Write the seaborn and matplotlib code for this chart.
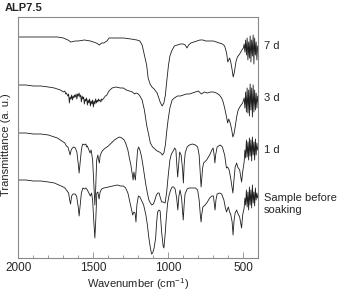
"""
FTIR spectra of ALP7.5 after soaking, stacked (7 d, 3 d, 1 d, before soaking)
"""
import numpy as np
import matplotlib
matplotlib.use('Agg')
import matplotlib.pyplot as plt
from matplotlib.ticker import MultipleLocator
import seaborn as sns

# Spectra (transmittance in arbitrary, offset units)
wn_7d = [2000, 1900, 1800, 1740, 1700, 1670, 1650, 1620, 1600, 1560,
         1520, 1480, 1460, 1445, 1430, 1410, 1395, 1350, 1300, 1250,
         1210, 1190, 1175, 1160, 1145, 1135, 1122, 1110, 1095, 1075,
         1055, 1042, 1030, 1020, 1010, 1000, 990, 975, 960, 940,
         920, 900, 888, 876, 865, 850, 830, 810, 790, 770,
         750, 720, 700, 680, 660, 640, 625, 612, 604, 598,
         592, 584, 575, 568, 560, 550, 540, 525, 510, 500,
         495, 490, 485, 480, 475, 470, 465, 460, 455, 450,
         445, 440, 435, 430, 425, 420, 415, 410, 405, 400]
t_7d = [221, 221, 221, 221, 220, 218, 216, 217, 217, 218,
        217, 215, 213, 215, 215, 217, 220, 220, 220, 219,
        218, 217, 213, 203, 193, 180, 174, 171, 169, 165,
        156, 152, 155, 163, 178, 192, 202, 208, 212, 213,
        214, 214, 213, 210, 213, 215, 216, 217, 218, 218,
        217, 217, 217, 216, 215, 214, 212, 205, 196, 198,
        200, 196, 188, 181, 186, 196, 201, 204, 208, 210,
        214, 206, 218, 203, 220, 198, 216, 200, 222, 196,
        218, 202, 223, 194, 220, 203, 216, 198, 212, 208]

wn_3d = [2000, 1950, 1900, 1850, 1800, 1760, 1740, 1720, 1700, 1690,
         1685, 1680, 1670, 1665, 1660, 1655, 1650, 1645, 1640, 1635,
         1630, 1625, 1620, 1615, 1610, 1605, 1600, 1595, 1590, 1585,
         1580, 1575, 1570, 1565, 1560, 1555, 1550, 1545, 1540, 1535,
         1530, 1525, 1520, 1515, 1510, 1505, 1500, 1495, 1490, 1485,
         1480, 1475, 1470, 1465, 1460, 1455, 1450, 1445, 1440, 1430,
         1420, 1410, 1400, 1390, 1375, 1350, 1320, 1300, 1280, 1260,
         1240, 1225, 1215, 1200, 1190, 1175, 1160, 1145, 1135, 1120,
         1105, 1090, 1075, 1060, 1050, 1040, 1030, 1020, 1010, 1002,
         990, 975, 960, 940, 920, 900, 880, 860, 840, 820,
         800, 780, 760, 740, 720, 700, 680, 660, 645, 635,
         625, 615, 605, 598, 590, 580, 570, 563, 555, 545,
         535, 520, 505, 495, 490, 485, 480, 475, 470, 465,
         460, 455, 450, 445, 440, 435, 430, 425, 420, 415,
         410, 405, 400]
t_3d = [173, 173, 172, 172, 171, 170, 169, 168, 166, 167,
        164, 165, 162, 164, 155, 161, 159, 163, 158, 162,
        160, 163, 161, 164, 159, 164, 162, 165, 161, 163,
        156, 162, 159, 161, 154, 159, 157, 160, 153, 158,
        155, 159, 152, 157, 154, 158, 151, 157, 154, 159,
        155, 158, 156, 159, 157, 158, 156, 159, 158, 160,
        162, 163, 166, 168, 170, 171, 170, 170, 168, 167,
        166, 164, 165, 164, 162, 158, 148, 133, 126, 115,
        111, 109, 107, 106, 105, 103, 105, 113, 128, 138,
        150, 158, 160, 162, 162, 163, 164, 164, 165, 166,
        167, 164, 166, 165, 166, 166, 165, 163, 160, 156,
        150, 143, 135, 139, 136, 130, 121, 124, 131, 141,
        148, 152, 155, 160, 150, 166, 146, 170, 145, 168,
        142, 174, 148, 170, 141, 173, 146, 168, 148, 165,
        150, 162, 156]

wn_1d = [2000, 1950, 1900, 1850, 1800, 1760, 1740, 1720, 1700, 1690,
         1680, 1670, 1660, 1655, 1648, 1640, 1630, 1620, 1610, 1600,
         1595, 1590, 1580, 1575, 1570, 1560, 1550, 1545, 1540, 1530,
         1522, 1515, 1505, 1495, 1490, 1485, 1478, 1470, 1465, 1460,
         1455, 1445, 1435, 1420, 1400, 1380, 1360, 1340, 1325, 1310,
         1295, 1285, 1270, 1260, 1250, 1240, 1235, 1230, 1225, 1220,
         1213, 1205, 1198, 1190, 1180, 1170, 1160, 1150, 1140, 1130,
         1120, 1110, 1100, 1090, 1080, 1070, 1062, 1055, 1045, 1035,
         1022, 1012, 1002, 990, 980, 968, 958, 950, 945, 938,
         932, 925, 915, 905, 900, 895, 888, 875, 860, 840,
         820, 805, 795, 787, 782, 778, 772, 765, 745, 725,
         710, 702, 695, 690, 685, 675, 655, 640, 625, 613,
         605, 595, 585, 578, 570, 563, 555, 545, 538, 525,
         512, 505, 495, 490, 485, 480, 475, 470, 465, 460,
         455, 450, 445, 440, 435, 430, 425, 420, 415, 410,
         405, 400]
t_1d = [125, 125, 124, 124, 123, 121, 120, 118, 116, 115,
        112, 111, 106, 103, 108, 110, 111, 110, 106, 93,
        85, 93, 108, 112, 114, 113, 114, 111, 112, 108,
        105, 108, 98, 68, 53, 68, 98, 103, 98, 95,
        102, 106, 108, 110, 112, 115, 118, 120, 121, 120,
        118, 115, 108, 100, 93, 83, 78, 86, 82, 78,
        93, 108, 111, 108, 102, 93, 83, 73, 65, 58,
        55, 53, 54, 58, 63, 65, 65, 61, 56, 56,
        55, 65, 81, 98, 104, 107, 110, 108, 96, 81,
        93, 106, 103, 88, 75, 93, 105, 111, 113, 114,
        113, 111, 103, 83, 71, 78, 90, 95, 98, 103,
        108, 110, 103, 95, 103, 111, 113, 111, 103, 90,
        91, 88, 80, 73, 65, 78, 91, 95, 91, 88,
        76, 86, 96, 108, 100, 118, 101, 116, 98, 120,
        102, 118, 97, 121, 103, 116, 98, 119, 103, 115,
        108, 111]

wn_before = [2000, 1950, 1900, 1850, 1800, 1760, 1730, 1700, 1690, 1675,
             1665, 1658, 1652, 1645, 1635, 1622, 1612, 1600, 1595, 1589,
             1580, 1570, 1560, 1550, 1540, 1530, 1520, 1512, 1505, 1497,
             1490, 1484, 1477, 1470, 1462, 1455, 1445, 1430, 1400, 1370,
             1340, 1320, 1300, 1285, 1270, 1255, 1245, 1238, 1230, 1222,
             1216, 1210, 1200, 1190, 1180, 1165, 1150, 1140, 1130, 1120,
             1112, 1105, 1095, 1085, 1078, 1072, 1062, 1055, 1045, 1035,
             1030, 1022, 1015, 1005, 995, 985, 975, 965, 955, 945,
             937, 930, 922, 912, 905, 901, 895, 889, 875, 860,
             840, 820, 805, 795, 787, 782, 778, 770, 755, 740,
             725, 710, 700, 693, 689, 683, 675, 660, 645, 630,
             620, 612, 606, 600, 592, 585, 575, 569, 562, 555,
             545, 538, 525, 512, 505, 495, 490, 485, 480, 475,
             470, 465, 460, 455, 450, 445, 440, 435, 430, 425,
             420, 415, 410, 405, 400]
t_before = [78, 78, 77, 77, 76, 75, 73, 71, 70, 67,
            65, 58, 54, 62, 64, 64, 62, 50, 42, 51,
            65, 70, 69, 70, 68, 65, 62, 65, 58, 36,
            20, 38, 65, 66, 59, 66, 69, 70, 71, 72,
            73, 72, 72, 70, 65, 55, 48, 43, 46, 45,
            36, 53, 62, 61, 58, 53, 43, 33, 20, 10,
            4, 5, 10, 20, 36, 46, 48, 47, 26, 12,
            10, 23, 38, 55, 63, 68, 71, 71, 69, 60,
            48, 62, 68, 60, 46, 38, 53, 64, 69, 70,
            70, 70, 68, 58, 43, 36, 43, 51, 53, 56,
            60, 62, 62, 53, 48, 58, 64, 65, 64, 58,
            50, 46, 49, 51, 46, 44, 36, 23, 38, 45,
            48, 45, 41, 30, 43, 50, 60, 53, 68, 51,
            66, 48, 71, 53, 68, 50, 73, 55, 66, 52,
            70, 58, 65, 60, 63]

labels = ['7 d', '3 d', '1 d', 'Sample before\nsoaking']
label_levels = [212, 160, 108, 54]
x_ticks = [2000, 1500, 1000, 500]

sns.set_theme(style='white')
plt.rcParams['font.family'] = ['Liberation Sans', 'DejaVu Sans']
plt.rcParams['mathtext.default'] = 'regular'

fig = plt.figure(figsize=(3.4, 2.91), dpi=100)
ax = fig.add_axes([0.054, 0.1134, 0.706, 0.8282])

line_color = '#1e1e1e'
for wn, t in [(wn_7d, t_7d), (wn_3d, t_3d), (wn_1d, t_1d), (wn_before, t_before)]:
    sns.lineplot(x=np.array(wn), y=np.array(t), ax=ax, color=line_color,
                 linewidth=0.6, sort=False, estimator=None)

ax.set_xlim(2000, 400)
ax.set_ylim(0, 241)
ax.set_xticks(x_ticks)
ax.set_xticklabels([str(v) for v in x_ticks], fontsize=8.5)
ax.xaxis.set_minor_locator(MultipleLocator(100))
ax.set_yticks([])

spine_color = '#8a8a8a'
for s in ax.spines.values():
    s.set_color(spine_color)
    s.set_linewidth(0.8)
ax.tick_params(axis='x', which='major', direction='in', length=4, width=0.6,
               color=spine_color, pad=3, bottom=True)
ax.tick_params(axis='x', which='minor', direction='in', length=2.5, width=0.6,
               color=spine_color, bottom=True)

ax.set_xlabel('Wavenumber (cm$^{-1}$)', fontsize=8, labelpad=1.5)
ax.set_ylabel('Transmittance (a. u.)', fontsize=8)
ax.yaxis.set_label_coords(-0.03, 0.47)

for lab, lev in zip(labels, label_levels):
    ax.annotate(lab, xy=(1.024, lev), xycoords=('axes fraction', 'data'),
                fontsize=8, va='center', ha='left', annotation_clip=False)

fig.text(0.015, 0.972, 'ALP7.5', fontsize=8, fontweight='bold', va='center', ha='left')

fig.savefig('out.png', dpi=100)
